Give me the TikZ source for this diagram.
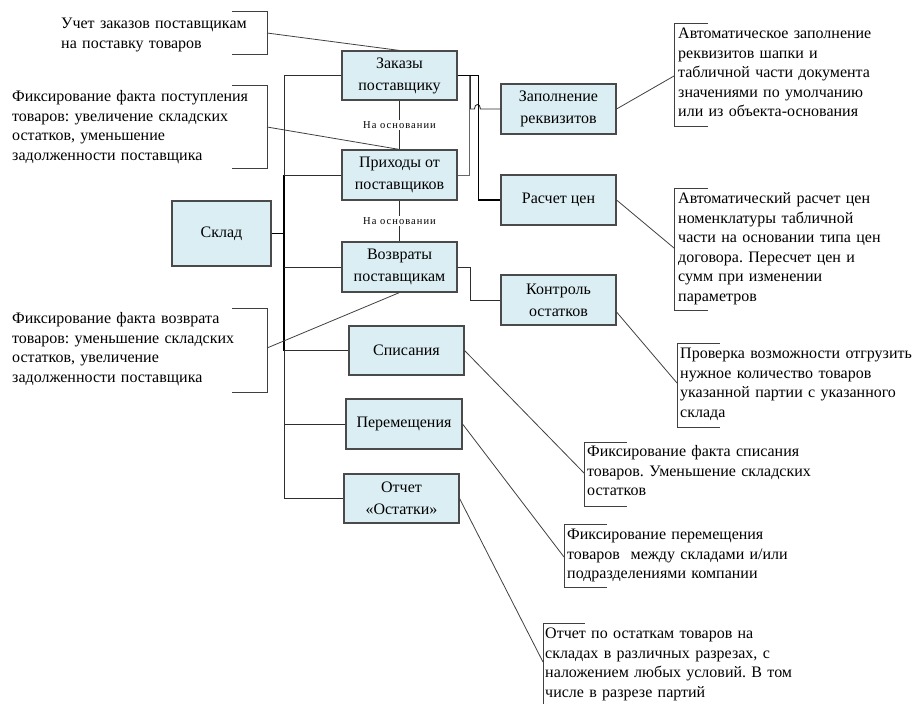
\documentclass[tikz,border=0pt]{standalone}
\usepackage{fontspec}
\setmainfont{Liberation Serif}
\newfontfamily\lblfont[LetterSpace=10]{Liberation Serif}
\definecolor{boxfill}{HTML}{DBEEF4}
\definecolor{boxline}{HTML}{4A4A4A}
\definecolor{linecol}{HTML}{2E2E2E}
\definecolor{callcol}{HTML}{404040}
\frenchspacing
\begin{document}
\frenchspacing
\begin{tikzpicture}[x=1pt,y=-1pt,
  box/.style={draw=boxline, fill=boxfill, line width=1.1pt, minimum width=115pt, minimum height=49pt, inner sep=0pt, align=center, font=\fontsize{16}{22}\selectfont},
  note/.style={anchor=north west, inner sep=0pt, align=left, text width=260pt, font=\fontsize{16}{19.5}\selectfont\frenchspacing},
  conn/.style={draw=linecol, line width=0.9pt},
  thickconn/.style={draw=black, line width=1.5pt},
  call/.style={draw=callcol, line width=0.8pt},
  lbl/.style={fill=white, inner sep=1.5pt, font=\lblfont\fontsize{10.5}{12}\selectfont}]
\useasboundingbox (0,0) rectangle (920,704);

% boxes
\node[box, minimum width=99pt, minimum height=65pt] (sklad) at (221.5,233.5) {Склад};
\node[box] (zak)  at (399.5,75.5) {Заказы\\поставщику};
\node[box, minimum height=50pt] (prih) at (399.5,175) {Приходы от\\поставщиков};
\node[box, minimum height=50pt] (vozv) at (399.5,267) {Возвраты\\поставщикам};
\node[box] (spis) at (406.5,350.5) {Списания};
\node[box, minimum width=116pt, minimum height=50pt] (perem) at (404,424) {Перемещения};
\node[box] (otch) at (401.5,498.5) {Отчет\\«Остатки»};
\node[box, minimum height=50pt] (zap)  at (558.5,109) {Заполнение\\реквизитов};
\node[box, minimum height=50pt] (rasc) at (558.5,200) {Расчет цен};
\node[box, minimum height=50pt] (kontr) at (558.5,300) {Контроль\\остатков};

% trunk
\coordinate (tr) at (284,0);
\draw[conn] (zak.west -| tr) -- (otch.west -| tr);
\draw[thickconn] (sklad.east) -- (sklad.east -| tr);
\draw[line width=1.6pt, black] (prih.west -| tr) -- (spis.west -| tr);
\foreach \n in {zak,prih,vozv,spis,perem,otch}
  \draw[conn] (\n.west -| tr) -- (\n.west);

% "На основании"
\draw[conn] (zak.south) -- node[lbl] {На основании} (prih.north);
\draw[conn] (prih.south) -- node[lbl] {На основании} (vozv.north);

% right connectors
\draw[conn, draw=gray!80!black] (prih.east) -- ++(12,0) |- (zak.east);
\draw[conn] (zap.west) -- ++(-20,0) .. controls ++(0,-6) and ++(0,-6) .. ++(-6,0) -- ++(-4,0) -- ++(0,-33.5);
\draw[thickconn] (zak.east) -- ++(21,0) |- (rasc.west);
\draw[conn] (vozv.east) -- ++(13,0) |- (kontr.west);

% left callouts
\coordinate (b1) at (267,33);
\draw[call] (232,11) -- (267,11) -- (267,54) -- (232,54);
\draw[call] (b1) -- (zak.north);
\node[note] (n1) at (61,15) {\strut Учет заказов поставщикам\\на поставку товаров};

\coordinate (b2) at (267,127);
\draw[call] (232,85) -- (267,85) -- (267,168) -- (232,168);
\draw[call] (b2) -- (prih.north);
\node[note] (n2) at (12,88) {\strut Фиксирование факта поступления\\товаров: увеличение складских\\остатков, уменьшение\\задолженности поставщика};

\coordinate (b3) at (267,348);
\draw[call] (232,308) -- (267,308) -- (267,392) -- (232,392);
\draw[call] (b3) -- (vozv.south);
\node[note] (n3) at (12,310) {\strut Фиксирование факта возврата\\товаров: уменьшение складских\\остатков, увеличение\\задолженности поставщика};

% right callouts
\coordinate (b4) at (674,76);
\draw[call] (708,23) -- (674,23) -- (674,126) -- (708,126);
\draw[call] (zap.east) -- (b4);
\node[note] (n4) at (678,25) {\strut Автоматическое заполнение\\реквизитов шапки и\\табличной части документа\\значениями по умолчанию\\или из объекта-основания};

\coordinate (b5) at (674,248);
\draw[call] (708,188) -- (674,188) -- (674,310) -- (708,310);
\draw[call] (rasc.east) -- (b5);
\node[note] (n5) at (678,190) {\strut Автоматический расчет цен\\номенклатуры табличной\\части на основании типа цен\\договора. Пересчет цен и\\сумм при изменении\\параметров};

\coordinate (b6) at (677,383);
\draw[call] (720,343) -- (677,343) -- (677,427) -- (720,427);
\draw[call] ([yshift=-12pt]kontr.east) -- (b6);
\node[note] (n6) at (680,345) {\strut Проверка возможности отгрузить\\нужное количество товаров\\указанной партии с указанного\\склада};

\coordinate (b7) at (584,473);
\draw[call] (627,442) -- (584,442) -- (584,506) -- (627,506);
\draw[call] (spis.east) -- (b7);
\node[note] (n7) at (587,443) {\strut Фиксирование факта списания\\товаров. Уменьшение складских\\остатков};

\coordinate (b8) at (564,557);
\draw[call] (607,524) -- (564,524) -- (564,587) -- (607,587);
\draw[call] (perem.east) -- (b8);
\node[note] (n8) at (567,526) {\strut Фиксирование перемещения\\товаров\ \ между складами и/или\\подразделениями компании};

\coordinate (b9) at (543,662);
\draw[call] (585,623) -- (543,623) -- (543,704);
\draw[call] (otch.east) -- (b9);
\node[note] (n9) at (545,625) {\strut Отчет по остаткам товаров на\\складах в различных разрезах, с\\наложением любых условий. В том\\числе в разрезе партий};
\end{tikzpicture}
\end{document}
